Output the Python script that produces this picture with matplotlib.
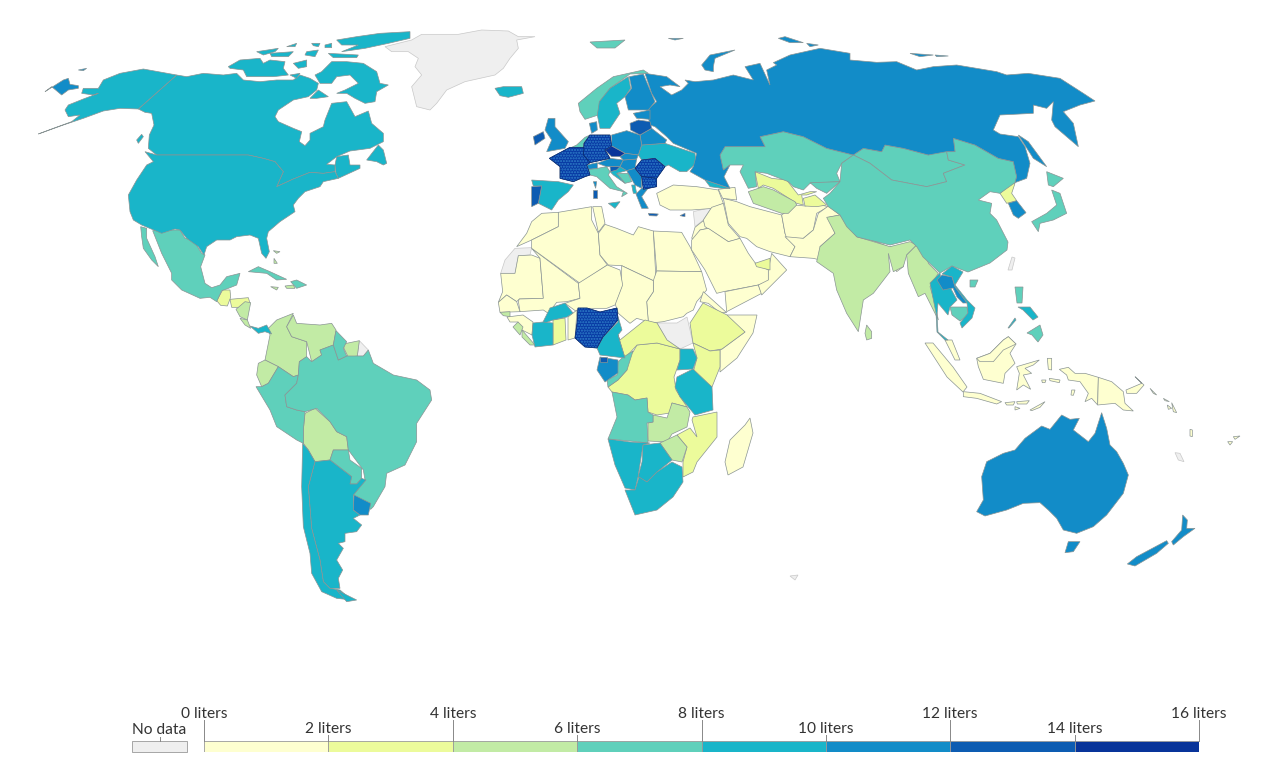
import matplotlib
matplotlib.use("Agg")
import numpy as np
import matplotlib.pyplot as plt

plt.rcParams['font.family'] = ['Lato', 'DejaVu Sans']

# legend
bin_edges = [0, 2, 4, 6, 8, 10, 12, 14, 16]
bin_colors = ['#feffd0', '#ecfb9b', '#c2eba5', '#5fd0bb', '#19b5c9', '#128cc8', '#0d5cb2', '#08349a']
no_data_color = '#efefef'
tick_labels = ['0 liters', '2 liters', '4 liters', '6 liters', '8 liters', '10 liters', '12 liters', '14 liters', '16 liters']


# outlines were traced region by region, each region has its own origin
def at(x0, y0, pts):
    return [(x0 + x / 3, y0 + y / 3) for x, y in pts]


def na(pts): return at(30, 25, pts)
def sa(pts): return at(130, 220, pts)
def eu(pts): return at(510, 60, pts)
def naf(pts): return at(490, 195, pts)
def me(pts): return at(640, 130, pts)
def ru(pts): return at(650, 30, pts)
def oc(pts): return at(960, 330, pts)
def gl(pts): return at(375, 25, pts)


no_data = [
    gl([(30,65),(110,45),(140,28),(250,28),(320,15),(400,18),(430,35),(480,35),(425,45),(430,70),(405,100),(385,130),(360,150),(270,170),(215,195),(185,235),(165,255),(125,245),(110,185),(140,150),(120,125),(130,100),(100,80),(50,80)]),
    naf([(125,158),(120,180),(85,182),(75,235),(32,235),(45,195),(75,160)]),
    me([(160,245),(215,232),(190,270),(165,290)]),
    [(657,323),(677,323),(687,317),(693,343),(680,349),(667,340)],
    [(1012,257),(1015,258),(1012,270),(1008,270)],
    sa([(688,362),(715,390),(700,408),(682,408)]),
    oc([(645,368),(660,370),(672,395),(655,390)]),
    [(790,576),(798,575),(795,580)],
]
band_0_2 = [
    naf([(205,52),(205,95),(125,135),(80,155),(110,115),(125,80),(155,55)]),
    naf([(32,235),(75,235),(85,182),(125,180),(150,190),(160,310),(88,312),(80,320),(50,300),(25,322),(38,290)]),
    naf([(125,160),(265,265),(270,310),(230,320),(200,322),(175,355),(160,345),(90,350),(85,318),(88,312),(160,310),(150,190)]),
    naf([(205,52),(305,35),(305,75),(325,115),(330,180),(352,210),(270,265),(125,160),(125,135),(205,95)]),
    naf([(308,35),(335,35),(345,85),(325,112)]),
    naf([(345,88),(380,100),(430,120),(445,95),(490,108),(498,255),(490,257),(395,212),(355,210),(330,180),(325,115)]),
    naf([(490,108),(575,112),(600,155),(635,230),(500,228)]),
    naf([(500,228),(635,230),(650,285),(620,320),(610,345),(590,355),(580,365),(520,380),(475,385),(470,320),(490,290),(490,257)]),
    naf([(395,212),(490,257),(490,290),(470,320),(475,380),(440,370),(420,385),(385,355),(375,325),(395,275)]),
    naf([(352,210),(390,225),(398,270),(375,330),(350,340),(310,340),(265,340),(260,350),(225,325),(270,310),(265,265)]),
    naf([(25,322),(50,300),(80,320),(90,350),(30,352)]),
    me([(180,515),(190,485),(260,548),(240,548),(205,520)]),
    [(727,315),(757,315),(753,333),(737,358),(720,372),(720,350),(722,349),(745,332),(730,322)],
    [(507,317),(523,315),(533,322),(532,335),(522,330),(518,322),(510,322)],
    [(568,317),(577,310),(575,338),(568,340)],
    [(750,418),(753,433),(743,467),(728,475),(725,462),(730,440),(745,425)],
    me([(50,190),(100,165),(170,170),(235,180),(250,220),(220,235),(155,240),(90,240),(60,225)]),
    me([(165,292),(190,272),(205,295),(180,300),(170,325),(155,325)]),
    me([(215,232),(250,220),(265,285),(300,325),(285,330),(265,335),(195,290),(190,270)]),
    me([(155,330),(180,300),(205,295),(265,335),(300,325),(325,370),(345,398),(385,420),(385,455),(355,465),(250,485),(230,490),(195,420),(155,360)]),
    me([(250,205),(290,215),(330,230),(425,255),(435,310),(465,350),(450,380),(390,365),(350,350),(320,325),(300,320),(265,280)]),
    me([(235,178),(285,172),(290,210),(248,205)]),
    me([(425,255),(465,225),(495,228),(530,222),(565,230),(530,250),(520,300),(490,325),(440,325),(435,310)]),
    me([(450,380),(465,350),(435,320),(490,325),(520,300),(535,250),(565,228),(600,255),(565,262),(585,310),(540,350),(560,395),(520,385)]),
    me([(650,320),(665,318),(745,350),(745,368),(700,355)]),
    me([(750,350),(785,348),(780,362),(755,362)]),
    me([(750,375),(790,385),(790,410),(770,425),(760,400)]),
    me([(255,485),(355,465),(365,490),(260,545)]),
    me([(395,370),(440,420),(365,495),(355,465),(385,450),(385,420)]),
    [(945,340),(952,340),(960,360),(955,360)],
    [(925,343),(933,343),(953,367),(967,387),(963,392),(947,377)],
    oc([(10,185),(60,190),(125,215),(110,222),(50,205),(10,200)]),
    oc([(50,85),(90,70),(130,30),(145,20),(168,42),(150,70),(165,100),(135,130),(130,160),(70,148),(55,110)]),
    oc([(50,85),(90,70),(130,30),(145,20),(168,42),(130,60),(100,95),(60,95)]),
    oc([(170,110),(238,90),(220,105),(195,115),(215,130),(190,135),(212,178),(190,165),(170,180),(178,130)]),
    oc([(262,85),(275,85),(275,120),(265,118)]),
    oc([(298,118),(325,112),(345,130),(375,130),(415,142),(413,225),(395,205),(375,215),(385,190),(360,155),(325,150),(320,135)]),
    oc([(415,142),(455,155),(490,185),(495,220),(520,243),(490,240),(465,220),(413,225)]),
    oc([(498,180),(545,160),(525,140),(552,165),(530,190),(500,190)]),
    oc([(135,218),(165,215),(160,225),(140,225)]),
    oc([(170,215),(208,212),(200,222),(172,222)]),
    oc([(165,230),(180,235),(165,240)]),
    oc([(210,240),(255,215),(240,232),(215,242)]),
    oc([(268,145),(300,150),(298,158),(270,152)]),
    oc([(245,150),(258,150),(255,158),(247,158)]),
    oc([(335,180),(345,180),(340,196),(333,195)]),
    oc([(570,175),(590,195),(580,190)]),
    oc([(610,205),(628,215),(615,212)]),
    oc([(622,225),(635,235),(625,238)]),
    oc([(635,218),(650,248),(640,245)]),
    oc([(690,298),(697,300),(697,320),(690,318)]),
    oc([(803,335),(818,335),(810,345)]),
    oc([(820,320),(840,318),(825,328)]),
]
band_2_4 = [
    [(703,303),(727,315),(745,332),(722,349),(710,351),(693,343),(690,323)],
    [(693,343),(710,351),(720,350),(720,367),(712,387),(693,373),(697,358)],
    [(625,358),(633,352),(637,345),(657,343),(680,349),(680,360),(674,377),(676,390),(687,407),(672,403),(670,413),(657,415),(648,412),(647,398),(635,400),(628,395),(612,392),(608,387),(618,380),(627,370)],
    [(620,340),(645,320),(657,323),(667,340),(680,349),(657,343),(637,345),(625,358),(618,335)],
    [(553,320),(565,318),(566,340),(553,345)],
    [(693,417),(717,412),(717,437),(697,462),(693,472),(683,477),(683,462),(687,447),(677,435),(690,428),(697,437),(692,420)],
    [(662,493),(667,490),(672,493),(665,498)],
    me([(345,125),(395,145),(440,150),(475,195),(510,185),(530,185),(500,195),(485,195),(490,225),(470,220),(400,175),(370,165),(355,175)]),
    me([(490,205),(525,195),(560,225),(530,230),(495,228)]),
    me([(345,400),(390,385),(390,420),(350,410)]),
    ru([(1050,490),(1085,460),(1095,460),(1085,490),(1100,512),(1070,520)]),
    sa([(278,210),(300,210),(302,232),(292,258),(272,256),(260,242)]),
    sa([(300,238),(355,233),(360,250),(330,262),(305,262)]),
]
band_4_6 = [
    sa([(318,268),(345,245),(362,248),(352,300),(330,290)]),
    sa([(330,295),(352,300),(362,325),(345,315)]),
    sa([(440,300),(490,280),(470,320),(485,350),(530,365),(530,410),(508,425),(505,465),(490,470),(445,440),(405,420),(420,345),(415,325)]),
    sa([(490,285),(500,310),(570,315),(605,310),(618,330),(610,375),(570,390),(575,405),(545,425),(530,365),(485,350),(470,320)]),
    sa([(385,430),(405,420),(445,440),(415,490),(395,500),(380,465)]),
    sa([(640,372),(688,362),(682,408),(655,412),(642,385)]),
    sa([(525,580),(555,565),(600,605),(620,635),(650,650),(655,690),(610,690),(600,720),(555,725),(535,690),(520,670),(520,630)]),
    sa([(430,92),(450,95),(440,100)]),
    sa([(432,115),(442,130),(432,130)]),
    sa([(422,200),(445,202),(440,210)]),
    sa([(465,198),(490,195),(495,205),(470,205)]),
    [(522,330),(535,345),(530,345),(522,337)],
    [(513,327),(518,322),(523,327),(520,335)],
    naf([(30,352),(60,350),(60,365),(40,362)]),
    [(648,423),(653,422),(653,415),(667,418),(672,403),(687,407),(690,412),(687,427),(672,434),(667,442),(648,441)],
    [(660,443),(677,435),(687,447),(682,462),(672,460)],
    me([(325,185),(370,170),(400,180),(465,215),(470,225),(445,250),(425,250),(340,220)]),
    me([(560,262),(600,255),(625,290),(650,320),(750,350),(770,345),(810,335),(830,345),(800,375),(790,410),(760,425),(745,370),(750,425),(700,490),(670,510),(655,605),(620,550),(590,480),(580,430),(530,395),(540,350),(585,310)]),
    me([(800,375),(830,345),(855,345),(865,400),(895,430),(870,470),(885,520),(895,570),(880,540),(855,490),(835,500),(805,430)]),
    me([(680,585),(695,605),(695,625),(680,630),(675,610)]),
]
band_6_8 = [
    sa([(68,32),(130,30),(150,30),(165,55),(190,60),(215,100),(225,105),(212,140),(225,190),(245,203),(270,195),(290,170),(330,160),(320,195),(295,205),(275,212),(260,245),(240,232),(210,235),(155,210),(125,180),(125,160),(95,100)]),
    sa([(32,20),(50,25),(50,55),(75,110),(85,140),(65,120),(40,85),(35,50)]),
    sa([(355,155),(385,140),(420,155),(470,178),(440,180),(410,160)]),
    sa([(500,180),(530,195),(500,205),(482,185)]),
    sa([(378,500),(395,500),(415,490),(445,440),(490,470),(505,465),(500,490),(465,525),(470,560),(500,570),(525,575),(520,630),(520,670),(500,660),(440,620),(420,570)]),
    sa([(508,425),(530,410),(545,425),(575,405),(570,390),(610,375),(625,420),(650,408),(682,408),(700,408),(715,390),(730,430),(790,465),(860,480),(900,510),(905,540),(860,610),(860,665),(825,735),(770,760),(765,800),(730,860),(722,868),(670,825),(705,780),(700,750),(655,690),(650,650),(620,635),(600,605),(560,565),(525,575),(500,570),(470,560),(465,525),(500,490),(505,465)]),
    sa([(618,332),(650,365),(640,385),(650,408),(625,420),(610,375)]),
    sa([(610,690),(655,690),(660,720),(695,745),(695,775),(680,792),(660,792),(665,770),(600,720)]),
    [(622,358),(633,351),(627,370),(618,380),(608,387),(607,380),(617,375),(618,362)],
    [(612,392),(628,395),(635,400),(647,398),(648,412),(653,415),(653,422),(647,423),(648,443),(630,441),(608,439),(617,417)],
    [(590,42),(625,40),(615,48),(597,48)],
    eu([(205,130),(260,85),(310,50),(400,30),(415,40),(360,42),(300,85),(270,125),(265,165),(225,178),(210,155)]),
    eu([(235,328),(262,325),(290,320),(300,335),(295,345),(320,380),(352,400),(335,410),(340,395),(300,385),(260,350),(240,345)]),
    eu([(200,255),(225,232),(240,225),(222,250),(220,262),(185,262)]),
    eu([(320,340),(355,340),(365,365),(345,370)]),
    ru([(210,375),(225,350),(290,350),(345,350),(330,320),(400,305),(460,320),(530,355),(610,375),(575,400),(560,430),(570,455),(480,460),(460,480),(430,470),(415,455),(350,430),(315,425),(320,470),(295,475),(270,425),(280,405),(240,405),(220,420)]),
    ru([(480,458),(570,455),(530,490),(500,475)]),
    ru([(610,375),(640,355),(695,365),(705,345),(760,355),(835,375),(880,360),(890,365),(895,390),(945,405),(880,430),(890,455),(830,470),(725,450),(660,400)]),
    ru([(570,455),(575,400),(610,375),(660,400),(725,450),(830,470),(890,455),(880,430),(945,405),(895,390),(890,365),(915,365),(910,325),(975,345),(1045,385),(1090,395),(1100,440),(1095,458),(1050,490),(1020,485),(985,510),(1025,520),(1020,550),(1040,570),(1074,636),(1071,660),(1020,699),(954,726),(906,708),(870,729),(819,681),(801,651),(780,630),(720,645),(621,621),(590,590),(570,555),(535,530),(520,505),(540,490)]),
    ru([(1190,425),(1240,445),(1210,470),(1195,465)]),
    ru([(1205,480),(1230,490),(1250,550),(1210,570),(1170,580),(1165,605),(1145,575),(1190,550),(1220,525)]),
    [(970,280),(978,280),(975,287),(970,287)],
    [(1015,287),(1023,287),(1022,303),(1017,303)],
    [(1027,333),(1040,325),(1043,335),(1038,342),(1032,335)],
    [(950,307),(967,307),(968,315),(960,321),(952,315)],
]
band_8_10 = [
    gl([(360,190),(385,185),(440,185),(445,205),(400,217),(375,212)]),
    na([(440,150),(470,155),(520,145),(580,150),(620,145),(640,165),(690,170),(740,165),(790,165),(810,150),(840,160),(865,175),(860,195),(835,215),(790,225),(745,255),(735,275),(745,290),(790,310),(815,320),(808,350),(825,362),(840,345),(840,325),(880,305),(885,285),(905,235),(950,230),(975,275),(1015,258),(1025,295),(1060,325),(1060,350),(1020,370),(960,378),(920,395),(890,418),(915,420),(915,440),(880,445),(840,442),(790,462),(740,485),(760,440),(735,410),(700,400),(655,390),(380,390),(355,370),(358,330),(372,300),(365,265),(345,262),(325,252)]),
    na([(915,420),(920,395),(955,390),(960,420),(990,420),(990,430),(925,460),(918,445)]),
    na([(1010,405),(1045,360),(1060,375),(1070,415),(1060,420),(1040,410)]),
    na([(880,135),(905,110),(950,110),(1000,115),(1040,140),(1050,175),(1075,180),(1040,200),(1035,230),(1005,235),(975,220),(950,205),(920,205),(945,195),(985,175),(960,150),(920,155),(905,175),(870,175),(855,150),(875,140)]),
    na([(840,220),(865,195),(895,215),(860,220)]),
    na([(595,125),(630,105),(690,100),(700,115),(720,105),(765,110),(760,130),(775,150),(730,155),(650,155),(640,135),(600,130)]),
    na([(790,115),(830,105),(830,125),(805,130)]),
    na([(780,150),(810,145),(800,160)]),
    na([(830,80),(865,75),(855,95),(825,90)]),
    na([(680,80),(745,70),(735,80),(700,90)]),
    na([(720,85),(790,80),(775,95),(725,95)]),
    na([(895,85),(985,90),(980,98),(910,98)]),
    na([(920,45),(980,35),(1050,25),(1140,20),(1140,40),(1075,55),(1005,70),(935,80),(985,60),(935,60)]),
    na([(845,55),(870,55),(865,65),(850,62)]),
    na([(770,65),(800,55),(795,65)]),
    na([(885,60),(905,55),(905,68),(885,68)]),
    na([(320,345),(335,328),(340,335),(325,355)]),
    na([(380,390),(655,390),(700,400),(735,410),(760,440),(740,485),(790,462),(840,442),(880,445),(915,440),(925,460),(880,470),(870,485),(825,500),(805,520),(790,540),(795,560),(750,590),(715,620),(710,640),(718,680),(708,700),(695,685),(685,640),(660,630),(620,635),(600,645),(560,645),(530,665),(522,690),(505,665),(470,640),(450,615),(435,612),(395,625),(335,600),(310,585),(300,560),(295,510),(320,465),(350,420),(370,410),(345,380)]),
    na([(440,150),(340,132),(270,145),(220,165),(205,190),(160,190),(155,205),(190,210),(205,205),(160,222),(115,240),(105,255),(115,275),(150,270),(125,290),(70,310),(25,327),(100,300),(160,280),(220,258),(270,250),(325,252)]),
    sa([(360,318),(385,325),(410,315),(425,342),(405,335),(385,340)]),
    sa([(555,725),(600,720),(665,770),(660,792),(680,792),(695,775),(708,780),(670,825),(670,870),(690,885),(670,895),(695,915),(680,935),(645,940),(645,965),(625,970),(640,985),(620,1020),(638,1050),(625,1075),(630,1105),(600,1105),(580,1085),(570,1020),(545,925),(535,800)]),
    sa([(518,670),(535,690),(555,725),(535,800),(545,925),(570,1020),(580,1085),(600,1105),(630,1110),(665,1140),(620,1135),(575,1115),(545,1060),(540,1000),(520,920),(515,800)]),
    sa([(620,1110),(680,1140),(650,1145)]),
    [(543,322),(550,308),(565,303),(573,313),(567,317),(553,320),(545,323)],
    [(533,323),(543,322),(553,323),(553,345),(535,347),(532,335)],
    [(617,313),(622,330),(618,335),(625,358),(600,355),(597,348),(603,337),(618,322)],
    [(680,349),(693,349),(697,358),(693,369),(677,370),(680,360)],
    [(677,377),(693,369),(712,387),(713,410),(695,415),(680,397),(675,387)],
    [(643,445),(660,443),(672,460),(657,472),(647,482),(638,477),(642,462)],
    [(608,439),(630,442),(650,443),(643,445),(638,477),(635,490),(625,488),(615,465)],
    [(635,490),(639,477),(647,482),(657,472),(672,462),(682,467),(683,482),(673,497),(657,510),(635,515),(625,490)],
    eu([(268,125),(300,85),(355,50),(362,85),(345,110),(320,130),(330,160),(300,205),(270,205),(262,165)]),
    eu([(65,360),(145,365),(190,375),(175,395),(145,420),(125,450),(85,430),(95,378),(70,378)]),
    eu([(385,285),(395,255),(465,250),(555,280),(558,310),(530,335),(510,335),(475,315),(465,320),(435,295),(395,300)]),
    eu([(300,335),(330,320),(350,332),(320,340),(345,370),(310,345)]),
    eu([(295,430),(330,425),(315,445)]),
    eu([(365,375),(375,375),(380,400),(370,400)]),
    ru([(165,450),(240,475),(215,475),(180,470)]),
    [(930,283),(940,273),(942,288),(950,287),(957,300),(950,307),(948,315),(938,303),(937,315),(938,332),(948,340),(945,340),(937,332),(936,313)],
    [(942,274),(952,266),(963,272),(955,285),(967,300),(975,308),(972,318),(962,328),(960,323),(968,313),(967,303),(955,287),(952,277)],
    [(1018,307),(1030,307),(1038,317),(1033,320),(1023,310)],
    [(1015,318),(1008,328),(1009,328),(1016,320)],
]
band_10_12 = [
    ru([(-15,130),(50,140),(90,170),(60,165),(30,170),(65,195),(95,180),(115,160),(105,150),(135,155),(190,150),(250,135),(310,150),(285,110),(330,100),(360,165),(350,120),(380,105),(370,98),(420,75),(510,55),(600,70),(600,90),(680,97),(740,95),(800,120),(850,110),(920,105),(1040,125),(1070,135),(1135,130),(1230,145),(1300,190),(1335,213),(1290,225),(1240,245),(1270,280),(1285,350),(1215,290),(1205,270),(1210,215),(1190,235),(1150,225),(1150,250),(1050,255),(1030,300),(1050,312),(1105,320),(1125,350),(1140,400),(1130,445),(1095,458),(1100,440),(1090,395),(1045,385),(975,345),(910,325),(915,365),(890,365),(835,375),(760,355),(705,345),(695,365),(640,355),(610,375),(530,355),(460,320),(400,305),(330,320),(345,350),(290,350),(225,350),(210,375),(220,420),(240,405),(222,440),(240,475),(165,450),(120,425),(130,410),(140,370),(70,340),(50,320),(15,290),(0,285),(-10,240),(20,215),(5,190)]),
    ru([(155,105),(180,75),(255,60),(195,85),(190,110),(190,125),(165,120)]),
    ru([(55,25),(100,25),(75,30)]),
    ru([(385,25),(405,20),(460,38),(420,38)]),
    ru([(470,40),(505,45),(480,50)]),
    ru([(780,70),(850,75),(810,80)]),
    ru([(855,75),(895,78),(860,80)]),
    ru([(1105,315),(1135,335),(1190,410),(1150,385)]),
    na([(45,200),(100,165),(115,160),(120,178),(145,182),(145,190),(115,195),(95,210),(65,185)]),
    na([(145,135),(170,130),(160,137)]),
    sa([(672,825),(722,850),(715,885),(690,885),(670,870)]),
    [(600,357),(618,360),(618,373),(605,382),(597,370)],
    eu([(358,50),(400,42),(435,125),(415,150),(355,150),(345,110),(365,85)]),
    eu([(370,160),(420,150),(420,178),(380,175)]),
    eu([(390,225),(425,205),(470,240),(465,250),(395,255)]),
    eu([(305,225),(350,212),(390,225),(395,255),(385,285),(345,280),(305,258)]),
    eu([(115,175),(135,175),(135,200),(175,245),(165,265),(110,275),(125,240),(105,210)]),
    eu([(238,190),(260,185),(262,210),(245,220)]),
    eu([(230,315),(262,308),(262,325),(235,328)]),
    eu([(262,310),(300,295),(340,300),(330,320),(290,320)]),
    eu([(330,320),(340,300),(380,297),(375,325),(350,332)]),
    eu([(330,290),(345,280),(385,285),(380,297),(340,300)]),
    eu([(350,332),(375,325),(395,350),(395,385),(375,375)]),
    eu([(378,402),(395,385),(418,380),(395,410),(415,445),(395,445)]),
    eu([(250,365),(260,365),(257,385)]),
    ru([(1075,520),(1100,512),(1128,548),(1105,565),(1090,555)]),
    [(937,280),(942,275),(952,277),(955,287),(967,303),(963,303),(957,297),(953,288),(943,290)],
    oc([(50,545),(70,510),(65,440),(80,395),(130,370),(165,360),(195,325),(245,288),(270,298),(305,255),(330,268),(358,265),(340,300),(385,335),(405,310),(425,248),(440,295),(450,345),(470,365),(490,400),(505,435),(490,490),(440,555),(400,590),(350,610),(310,600),(290,565),(265,540),(240,518),(190,520),(140,540),(75,558)]),
    oc([(325,635),(360,635),(340,665),(315,668)]),
    oc([(668,555),(682,570),(680,595),(705,595),(670,620),(640,645),(635,635),(665,600)]),
    oc([(620,632),(625,640),(590,670),(525,708),(502,702),(530,680)]),
]
band_12_14 = [
    eu([(70,230),(100,215),(105,235),(75,255)]),
    eu([(65,380),(95,378),(85,430),(65,440)]),
    eu([(300,320),(330,320),(320,330),(302,335)]),
    eu([(415,460),(445,462),(440,468),(418,467)]),
    eu([(510,467),(525,460),(525,470)]),
    eu([(248,390),(262,390),(262,415),(248,415)]),
    eu([(360,190),(385,180),(420,185),(425,205),(390,225),(362,210)]),
    [(600,357),(607,357),(607,362),(600,362)],
]
band_14_16 = [
    [(578,308),(587,308),(600,312),(617,308),(618,320),(603,337),(597,348),(585,347),(575,338),(577,323)],
    eu([(222,250),(240,225),(300,225),(305,258),(285,270),(300,295),(240,308),(220,285)]),
    eu([(118,295),(180,262),(222,262),(220,285),(240,308),(230,315),(235,328),(240,345),(225,350),(190,365),(150,355),(150,320)]),
    eu([(375,325),(395,300),(435,295),(465,320),(440,355),(395,350)]),
    eu([(395,350),(440,355),(440,380),(400,388)]),
    eu([(285,270),(305,258),(345,280),(330,290),(305,290)]),
]
bands = [band_0_2, band_2_4, band_4_6, band_6_8, band_8_10, band_10_12, band_12_14, band_14_16]

fig = plt.figure(figsize=(12.8, 7.67), dpi=100)
ax = fig.add_axes([0, 0, 1, 1])
ax.set_xlim(0, 1280)
ax.set_ylim(767, 0)
ax.axis('off')

for shape in no_data:
    pts = np.array(shape)
    ax.fill(pts[:, 0], pts[:, 1], facecolor=no_data_color, edgecolor='#c8c8c8', linewidth=0.5)
for band, color in zip(bands, bin_colors):
    for shape in band:
        pts = np.array(shape)
        ax.fill(pts[:, 0], pts[:, 1], facecolor=color, edgecolor='#8a9494', linewidth=0.5)

# the darkest band looks speckled in the picture
for shape in band_14_16[:5]:
    pts = np.array(shape)
    ax.fill(pts[:, 0], pts[:, 1], facecolor='#083aa4', edgecolor='#2f7fc8', hatch='......', linewidth=0)
    ax.fill(pts[:, 0], pts[:, 1], facecolor='none', edgecolor='#082a70', linewidth=0.5)

# colour key below the map, on its own scale
leg = fig.add_axes([204 / 1280, 1 - 752 / 767, 995 / 1280, 47 / 767])
leg.set_xlim(0, 16)
leg.set_ylim(0, 47)
leg.axis('off')
leg.barh(5.5, np.diff(bin_edges), left=bin_edges[:-1], height=11, align='center',
         color=bin_colors, edgecolor='#999999', linewidth=0.6)
for i, (edge, lab) in enumerate(zip(bin_edges, tick_labels)):
    top = 32 if i % 2 == 0 else 17
    leg.plot([edge, edge], [11, top], color='#888888', linewidth=0.7, clip_on=False)
    leg.text(edge, top + 2, lab, ha='center', va='baseline', fontsize=11.2, color='#333333', clip_on=False)

ax.add_patch(plt.Rectangle((132, 741), 55, 11, facecolor=no_data_color, edgecolor='#999999', linewidth=0.6))
ax.plot([160, 160], [737, 741], color='#888888', linewidth=0.7)
ax.text(159.5, 734, 'No data', ha='center', va='baseline', fontsize=11.2, color='#333333')

fig.savefig('out.png', dpi=100)
